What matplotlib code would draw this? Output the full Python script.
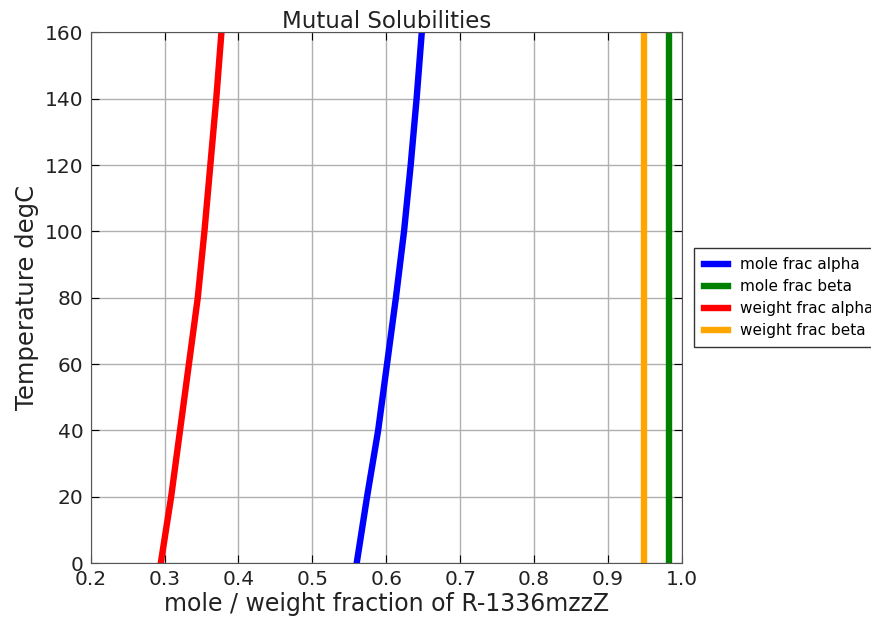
import matplotlib
matplotlib.use("Agg")
import matplotlib.pyplot as plt

# temperatures (degC) and fractions
temp = [0, 20, 40, 60, 80, 100, 120, 140, 160]
mole_alpha = [0.560, 0.574, 0.589, 0.601, 0.613, 0.624, 0.633, 0.641, 0.648]
mole_beta = [0.982, 0.982, 0.982, 0.982, 0.982, 0.982, 0.982, 0.982, 0.982]
weight_alpha = [0.295, 0.309, 0.321, 0.333, 0.345, 0.354, 0.362, 0.370, 0.377]
weight_beta = [0.949, 0.949, 0.949, 0.949, 0.949, 0.949, 0.949, 0.949, 0.949]

fig = plt.figure(figsize=(8.71, 6.17), dpi=100)
ax = fig.add_axes([0.104, 0.0875, 0.679, 0.86])

ax.plot(mole_alpha, temp, color="blue", lw=4.6, label="mole frac alpha")
ax.plot(mole_beta, temp, color="green", lw=4.6, label="mole frac beta")
ax.plot(weight_alpha, temp, color="red", lw=4.6, label="weight frac alpha")
ax.plot(weight_beta, temp, color="orange", lw=4.6, label="weight frac beta")

ax.set_xlim(0.2, 1.0)
ax.set_ylim(0, 160)
ax.grid(True, color="#b0b0b0", lw=1)
ax.tick_params(direction="in", top=True, right=True, labelsize=14.5,
               length=6, labelcolor="#222222", pad=5)
for s in ax.spines.values():
    s.set_color("#555555")

ax.set_xlabel("mole / weight fraction of R-1336mzzZ", fontsize=17,
              color="#222222", labelpad=2)
ax.set_ylabel("Temperature degC", fontsize=17.5, color="#222222")
ax.set_title("Mutual Solubilities", fontsize=16.5, pad=3, color="#222222")

ax.legend(loc="center left", bbox_to_anchor=(1.008, 0.5), fontsize=11,
          fancybox=False, edgecolor="black", handlelength=1.6,
          borderpad=0.6, labelspacing=0.45)

fig.savefig("out.png", dpi=100)
